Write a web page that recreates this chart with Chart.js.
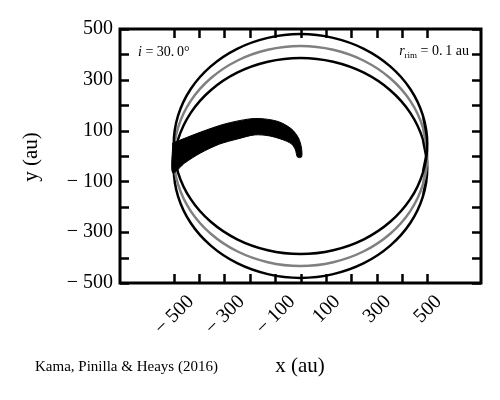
<!DOCTYPE html>
<html>
<head>
<meta charset="utf-8">
<script src="https://cdn.jsdelivr.net/npm/chart.js"></script>
<style>
html,body{margin:0;padding:0;background:#fff}
#wrap{width:500px;height:400px}
</style>
</head>
<body>
<div id="wrap"><canvas id="c"></canvas></div>
<script>
// tick values
const xTickLabels = [-500, -300, -100, 100, 300, 500];
const yTickLabels = [-500, -300, -100, 100, 300, 500];
const tickMarks = [-500, -400, -300, -200, -100, 0, 100, 200, 300, 400, 500];

// projected rim (i = 30 deg), points every 15 deg, ends overlap a bit
const rimX = [483, 500, 483, 433, 354, 250, 129, 0, -129, -250, -354, -433, -483, -500, -483, -433, -354, -250, -129, 0, 129, 250, 354, 433, 483, 500, 483];
const rimMidY = [-112, 0, 112, 217, 306, 375, 418, 433, 418, 375, 306, 217, 112, 0, -112, -217, -306, -375, -418, -433, -418, -375, -306, -217, -112, 0, 112];
const rimUpperY = [-65, 47, 159, 264, 353, 422, 465, 480, 465, 422, 353, 264, 159, 47, -65, -170, -259, -328, -371, -386, -371, -328, -259, -170, -65, 47, 159];
const rimLowerY = [-159, -47, 65, 170, 259, 328, 371, 386, 371, 328, 259, 170, 65, -47, -159, -264, -353, -422, -465, -480, -465, -422, -353, -264, -159, -47, 65];

// black arm: outer edge left->right, then inner edge right->left
const armX = [-504, -394, -299, -201, -142, -83, -35, -8, 4, 4, -12, -20, -35, -67, -122, -181, -248, -319, -394, -457, -504, -504];
const armY = [51, 94, 126, 146, 146, 134, 106, 71, 31, -4, -4, 24, 47, 63, 79, 83, 67, 47, 12, -28, -67, 51];

const serif = "'Liberation Serif', 'DejaVu Serif', serif";

function pts(xs, ys) {
  return xs.map((x, i) => ({x: x, y: ys[i]}));
}

function minusLabel(v) {
  return v < 0 ? '\u2212 ' + Math.abs(v) : String(v);
}

const framePlugin = {
  id: 'frame',
  afterDraw(chart) {
    const ctx = chart.ctx;
    const a = chart.chartArea;
    const xs = chart.scales.x, ys = chart.scales.y;
    ctx.save();
    ctx.strokeStyle = '#000';
    ctx.fillStyle = '#000';

    // ticks pointing inward on all four sides
    ctx.lineWidth = 2.5;
    const tl = 9;
    ctx.beginPath();
    tickMarks.forEach(v => {
      const px = Math.round(xs.getPixelForValue(v)) + 0.5;
      ctx.moveTo(px, a.bottom); ctx.lineTo(px, a.bottom - tl);
      ctx.moveTo(px, a.top); ctx.lineTo(px, a.top + tl);
      const py = Math.round(ys.getPixelForValue(v)) + 0.5;
      ctx.moveTo(a.left, py); ctx.lineTo(a.left + tl, py);
      ctx.moveTo(a.right, py); ctx.lineTo(a.right - tl, py);
    });
    ctx.stroke();

    ctx.lineWidth = 3;
    ctx.strokeRect(a.left, a.top, a.right - a.left, a.bottom - a.top);

    // rotated x tick labels, centred on the tick
    ctx.font = '20px ' + serif;
    ctx.textAlign = 'center';
    ctx.textBaseline = 'middle';
    xTickLabels.forEach(v => {
      const t = minusLabel(v);
      const w = ctx.measureText(t).width;
      const half = (w + 14) * Math.SQRT1_2 / 2;
      ctx.save();
      ctx.translate(xs.getPixelForValue(v), a.bottom + 10 + half);
      ctx.rotate(-Math.PI / 4);
      ctx.fillText(t, 0, 1);
      ctx.restore();
    });

    // axis titles
    ctx.font = '21px ' + serif;
    ctx.fillText('x (au)', 300, 366);
    ctx.save();
    ctx.translate(31, 157);
    ctx.rotate(-Math.PI / 2);
    ctx.fillText('y (au)', 0, 0);
    ctx.restore();

    // annotations
    ctx.textBaseline = 'alphabetic';
    ctx.textAlign = 'left';
    ctx.font = 'italic 14px ' + serif;
    ctx.fillText('i', 138, 56);
    let x0 = 138 + ctx.measureText('i').width;
    ctx.font = '14px ' + serif;
    ctx.fillText(' = 30.\u20090\u00b0', x0, 56);

    ctx.font = '14px ' + serif;
    const rest = ' = 0.\u20091 au';
    const wr = ctx.measureText(rest).width;
    ctx.font = '9px ' + serif;
    const ws = ctx.measureText('rim').width;
    ctx.font = 'italic 14px ' + serif;
    const wi = ctx.measureText('r').width;
    let xr = 469 - wr - ws - wi;
    ctx.fillText('r', xr, 55);
    ctx.font = '9px ' + serif;
    ctx.fillText('rim', xr + wi, 58);
    ctx.font = '14px ' + serif;
    ctx.fillText(rest, xr + wi + ws, 55);

    ctx.font = '15px ' + serif;
    ctx.fillText('Kama, Pinilla & Heays (2016)', 35, 371);
    ctx.restore();
  }
};

new Chart(document.getElementById('c'), {
  type: 'scatter',
  data: {
    datasets: [
      {data: pts(armX, armY), showLine: true, tension: 0.3, fill: 'shape',
       backgroundColor: '#000', borderColor: '#000', borderWidth: 1, pointRadius: 0},
      {data: pts(rimX, rimUpperY), showLine: true, tension: 0.4, fill: false,
       borderColor: '#000', borderWidth: 2.5, pointRadius: 0},
      {data: pts(rimX, rimMidY), showLine: true, tension: 0.4, fill: false,
       borderColor: '#808080', borderWidth: 2.5, pointRadius: 0},
      {data: pts(rimX, rimLowerY), showLine: true, tension: 0.4, fill: false,
       borderColor: '#000', borderWidth: 2.5, pointRadius: 0}
    ]
  },
  options: {
    responsive: true,
    maintainAspectRatio: false,
    animation: false,
    layout: {padding: {left: 0, top: 29, right: 19, bottom: 0}},
    plugins: {legend: {display: false}, tooltip: {enabled: false}},
    scales: {
      x: {
        min: -712, max: 712,
        grid: {display: false, drawTicks: false},
        border: {display: false},
        ticks: {display: false},
        afterFit: s => { s.height = 117; }
      },
      y: {
        min: -500, max: 500,
        grid: {display: false, drawTicks: false},
        border: {display: false},
        afterBuildTicks: s => { s.ticks = yTickLabels.map(v => ({value: v})); },
        afterFit: s => { s.width = 120; },
        ticks: {
          padding: 7, color: '#000',
          font: {family: serif, size: 20},
          callback: v => minusLabel(v)
        }
      }
    }
  },
  plugins: [framePlugin]
});
</script>
</body>
</html>
